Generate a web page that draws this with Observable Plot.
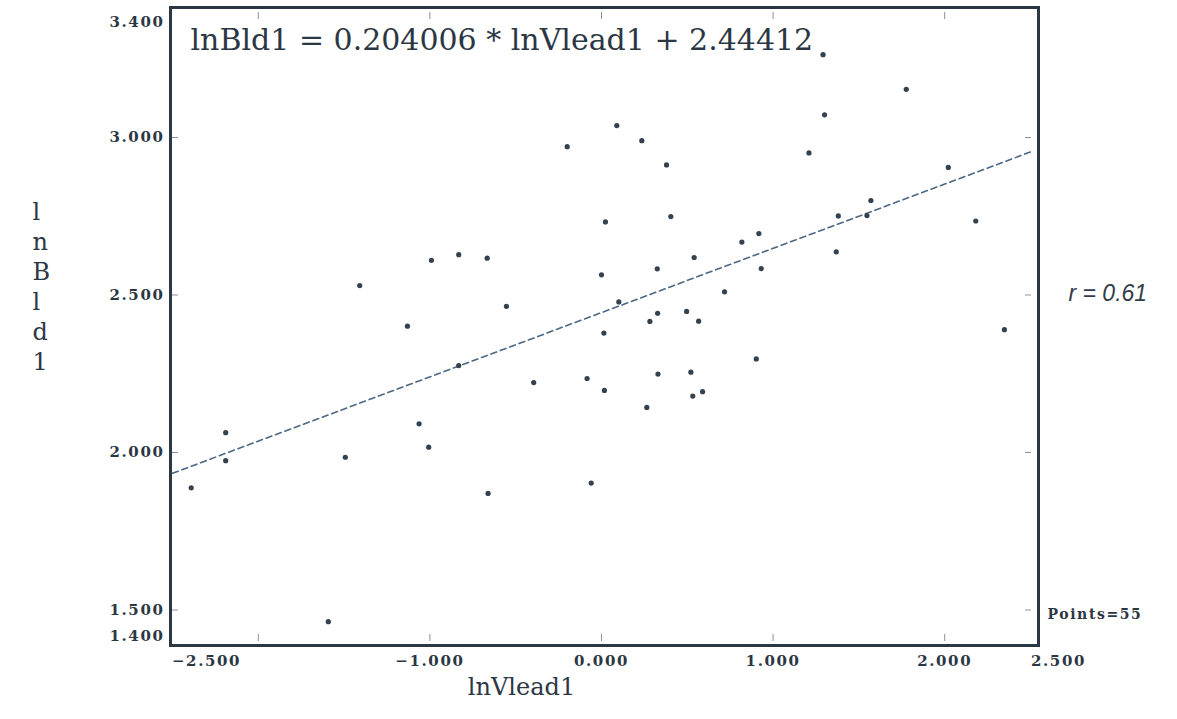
<!DOCTYPE html>
<html>
<head>
<meta charset="utf-8">
<script src="https://cdn.jsdelivr.net/npm/d3@7"></script>
<script src="https://cdn.jsdelivr.net/npm/@observablehq/plot@0.6"></script>
<style>
  html, body { margin: 0; padding: 0; background: #ffffff; }
  #chart svg { display: block; }
</style>
</head>
<body>
<div id="chart"></div>
<script>
// Regression of lnBld1 on lnVlead1 (55 observations)
const lnVlead1 = [
  -2.391, -2.190, -2.190, -1.592, -1.493, -1.409, -1.131, -1.063, -1.007, -0.991,
  -0.832, -0.832, -0.666, -0.661, -0.554, -0.395, -0.200, -0.084, -0.060, 0.000,
   0.014,  0.017,  0.023,  0.089,  0.101,  0.235,  0.264,  0.282,  0.325, 0.327,
   0.329,  0.379,  0.404,  0.496,  0.521,  0.532,  0.540,  0.566,  0.589, 0.717,
   0.818,  0.902,  0.917,  0.931,  1.209,  1.291,  1.300,  1.368,  1.380, 1.547,
   1.570,  1.776,  2.021,  2.181,  2.348
];
const lnBld1 = [
  1.888, 2.063, 1.974, 1.463, 1.985, 2.530, 2.401, 2.091, 2.017, 2.610,
  2.628, 2.276, 2.617, 1.870, 2.464, 2.222, 2.971, 2.235, 1.903, 2.564,
  2.379, 2.197, 2.732, 3.038, 2.478, 2.990, 2.143, 2.416, 2.583, 2.442,
  2.249, 2.913, 2.749, 2.448, 2.255, 2.179, 2.619, 2.417, 2.193, 2.510,
  2.668, 2.297, 2.695, 2.584, 2.951, 3.263, 3.072, 2.637, 2.751, 2.752,
  2.800, 3.153, 2.905, 2.735, 2.390
];

// Fitted line and summary
const slope = 0.204006;
const intercept = 2.44412;
const rValue = "0.61";

// Axis ranges and ticks
const xDomain = [-2.5, 2.5];
const yDomain = [1.4, 3.4];
const xTickMarks = [-2, -1, 0, 1, 2];
const yTickMarks = [1.5, 2, 2.5, 3];
const xInnerLabels = [-1, 0, 1, 2];
const yInnerLabels = [1.5, 2, 2.5, 3];

const points = lnVlead1.map((x, i) => ({x, y: lnBld1[i]}));
const fit = xDomain.map(x => ({x, y: slope * x + intercept}));
const fmt = d3.format(".3f");

const ink = "#2c3744";
const serif = "DejaVu Serif";
const tickFont = {fontFamily: serif, fontWeight: "bold", fontSize: 15, fill: ink};

const chart = Plot.plot({
  width: 1177,
  height: 719,
  marginLeft: 172,
  marginRight: 147,
  marginTop: 11,
  marginBottom: 78,
  x: {domain: xDomain},
  y: {domain: yDomain},
  style: {background: "#ffffff", overflow: "visible"},
  marks: [
    // inward tick marks on all four sides
    Plot.axisX({anchor: "top", ticks: xTickMarks, tickSize: -7, tickFormat: () => "", stroke: "#8a9099", label: null}),
    Plot.axisX({anchor: "bottom", ticks: xTickMarks, tickSize: -7, tickFormat: () => "", stroke: "#8a9099", label: null}),
    Plot.axisY({anchor: "left", ticks: yTickMarks, tickSize: -6, tickFormat: () => "", stroke: "#8a9099", label: null}),
    Plot.axisY({anchor: "right", ticks: yTickMarks, tickSize: -6, tickFormat: () => "", stroke: "#8a9099", label: null}),

    // x tick labels
    Plot.text(xInnerLabels, {x: d => d, frameAnchor: "bottom", dy: 24, text: d => fmt(d), ...tickFont}),
    Plot.text([xDomain[0]], {x: d => d, frameAnchor: "bottom", dy: 24, dx: 34, text: d => fmt(d), ...tickFont}),
    Plot.text([xDomain[1]], {x: d => d, frameAnchor: "bottom", dy: 24, dx: 28, text: d => fmt(d), ...tickFont}),

    // y tick labels
    Plot.text(yInnerLabels, {y: d => d, frameAnchor: "left", dx: -8, textAnchor: "end", text: d => fmt(d), ...tickFont}),
    Plot.text([yDomain[1]], {y: d => d, frameAnchor: "left", dx: -8, dy: 11, textAnchor: "end", text: d => fmt(d), ...tickFont}),
    Plot.text([yDomain[0]], {y: d => d, frameAnchor: "left", dx: -8, dy: -5, textAnchor: "end", text: d => fmt(d), ...tickFont}),

    // regression line
    Plot.line(fit, {x: "x", y: "y", stroke: "#4d6782", strokeWidth: 1.6, strokeDasharray: "6,4"}),

    // observations
    Plot.dot(points, {x: "x", y: "y", r: 2.6, fill: "#34414e", stroke: "none"}),

    // frame
    Plot.frame({stroke: ink, strokeWidth: 3, insetLeft: -2, insetRight: -8, insetTop: -4, insetBottom: -4}),

    // equation of the fit
    Plot.text([`lnBld1 = ${slope} * lnVlead1 + ${intercept}`], {
      frameAnchor: "top-left", textAnchor: "start", lineAnchor: "top", dx: 18, dy: 17,
      fontFamily: serif, fontSize: 30, fill: ink
    }),

    // axis titles
    Plot.text(["lnVlead1"], {frameAnchor: "bottom", dx: -80, dy: 53, fontFamily: serif, fontSize: 24, fill: ink}),
    Plot.text(["l\nn\nB\nl\nd\n1"], {
      frameAnchor: "left", dx: -140, dy: -41, lineHeight: 1.25,
      fontFamily: serif, fontSize: 24, fill: ink
    }),

    // annotations
    Plot.text([`r = ${rValue}`], {
      frameAnchor: "right", textAnchor: "start", dx: 38, dy: -33,
      fontFamily: "Liberation Sans", fontStyle: "italic", fontSize: 23, fill: "#333c47"
    }),
    Plot.text([`Points=${lnVlead1.length}`], {
      frameAnchor: "bottom-right", textAnchor: "start", dx: 17, dy: -23,
      fontFamily: serif, fontWeight: "bold", fontSize: 14, fill: ink
    })
  ]
});

// widen the bold tick-label lettering
d3.select(chart).selectAll("g[font-weight='bold']").attr("letter-spacing", "1.6px");

document.getElementById("chart").appendChild(chart);
</script>
</body>
</html>
